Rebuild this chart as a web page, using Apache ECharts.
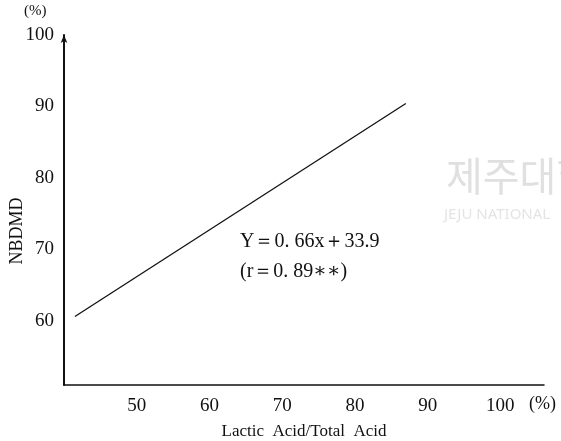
<!DOCTYPE html>
<html><head><meta charset="utf-8">
<script src="https://cdn.jsdelivr.net/npm/echarts@6/dist/echarts.min.js"></script>
<style>html,body{margin:0;padding:0;background:#fff}#c{width:561px;height:441px}</style>
</head><body><div id="c"></div>
<script>
// Data
const lineX = [41.5, 87];
const lineY = [60.6, 90.4];
const xTickLabels = [50, 60, 70, 80, 90, 100];
const yTickLabels = [60, 70, 80, 90, 100];
const yAxisTitle = 'NBDMD';
const equationText = 'Y\uFF1D0. 66x\uFF0B33.9';
const rText = '(r\uFF1D0. 89\u2217\u2217)';

const serif = '"Liberation Serif", "DejaVu Serif", serif';
const chart = echarts.init(document.getElementById('c'));
chart.setOption({
  backgroundColor: '#fff',
  animation: false,
  grid: { left: 64, top: 35, right: 17, bottom: 56, containLabel: false, outerBoundsMode: 'none' },
  xAxis: {
    type: 'value', min: 40, max: 106, interval: 1,
    axisLine: { show: true, lineStyle: { color: '#111', width: 1.5 } },
    axisTick: { show: false },
    splitLine: { show: false },
    axisLabel: {
      color: '#111', fontFamily: serif, fontSize: 19, margin: 12,
      showMinLabel: true, showMaxLabel: true, hideOverlap: false,
      formatter: v => xTickLabels.includes(v) ? String(v) : ''
    },
    name: 'Lactic  Acid/Total  Acid', nameLocation: 'middle', nameGap: 38,
    nameTextStyle: { color: '#111', fontFamily: serif, fontSize: 17 }
  },
  yAxis: {
    type: 'value', min: 51, max: 100, interval: 1,
    axisLine: { show: true, lineStyle: { color: '#111', width: 2 }, symbol: ['none', 'arrow'], symbolSize: [5, 8] },
    axisTick: { show: false },
    splitLine: { show: false },
    axisLabel: {
      color: '#111', fontFamily: serif, fontSize: 19, margin: 10,
      showMaxLabel: true, hideOverlap: false,
      formatter: v => yTickLabels.includes(v) ? String(v) : ''
    }
  },
  graphic: [
    { type: 'text', left: 446, top: 156, z: 0, style: { text: '제주대학', fill: '#e0e0e0', font: '40px "Noto Sans CJK KR"' } },
    { type: 'text', left: 444, top: 207, z: 0, style: { text: 'JEJU NATIONAL', fill: '#e4e4e4', font: '15px "Noto Sans"' } },
    { type: 'text', x: 17, y: 231, rotation: Math.PI / 2, style: { text: yAxisTitle, fill: '#111', font: '18px ' + serif, align: 'center', verticalAlign: 'middle' } },
    { type: 'text', left: 24, top: 4, style: { text: '(%)', fill: '#111', font: '15px ' + serif } },
    { type: 'text', left: 529, top: 395, style: { text: '(%)', fill: '#111', font: '18px ' + serif } },
    { type: 'text', left: 240, top: 232, style: { text: equationText, fill: '#111', font: '20px ' + serif } },
    { type: 'text', left: 240, top: 262, style: { text: rText, fill: '#111', font: '20px ' + serif } }
  ],
  series: [{
    type: 'line',
    data: lineX.map((x, i) => [x, lineY[i]]),
    symbol: 'none',
    lineStyle: { color: '#111', width: 1.3 },
    z: 5
  }]
});
</script>
</body></html>
